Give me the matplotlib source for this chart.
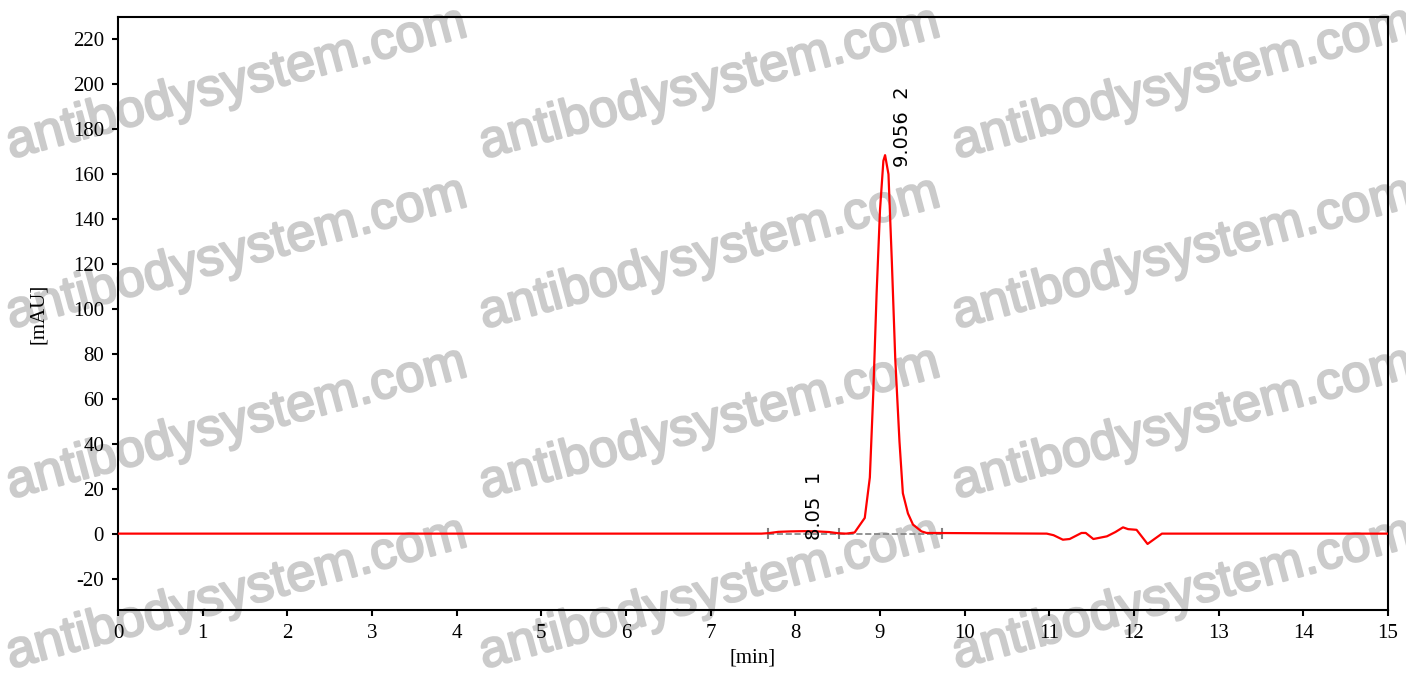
import numpy as np
from matplotlib import pyplot as plt
import matplotlib.patheffects as pe

plt.rcParams['axes.unicode_minus'] = False

# chromatogram trace (time in min, signal in mAU)
time = [0.0, 7.60, 7.68, 7.80, 7.95, 8.10, 8.25, 8.40, 8.50, 8.60, 8.70,
        8.82, 8.88, 8.92, 8.96, 9.00, 9.04, 9.06, 9.10, 9.14, 9.18, 9.23,
        9.27, 9.33, 9.39, 9.49, 9.55, 10.97, 11.05, 11.16, 11.24, 11.38,
        11.43, 11.52, 11.68, 11.78, 11.87, 11.93, 12.03, 12.09, 12.16,
        12.23, 12.33, 15.0]
signal = [0.0, 0.0, 0.2, 0.8, 1.0, 1.1, 1.0, 0.7, 0.2, 0.0, 0.5,
          7.0, 25.0, 62.0, 107.0, 144.0, 166.0, 168.5, 160.0, 121.0, 78.0, 41.0,
          18.0, 9.0, 4.0, 1.0, 0.3, 0.0, -0.7, -2.7, -2.4, 0.3,
          0.3, -2.4, -1.2, 0.7, 2.8, 2.0, 1.7, -1.2, -4.6,
          -2.7, 0.0, 0.0]

# integration baseline marks
base_marks = [7.68, 8.52, 9.73]

# peak annotations
peak_rt = ["8.05", "9.056"]
peak_no = ["1", "2"]
label_x = [8.23, 9.26]
label_y = [-2.7, 163.0]

fig = plt.figure(figsize=(14.06, 6.79), dpi=100)
ax = fig.add_axes([118/1406, 1-610/679, (1388-118)/1406, (610-17)/679])
ax.set_facecolor('none')
ax.set_zorder(1)

ax.plot([base_marks[0], base_marks[-1]], [0, 0], linestyle='--', color='#808080',
        linewidth=1.2, zorder=2)
for bx in base_marks:
    ax.plot([bx, bx], [-2.0, 2.2], color='#808080', linewidth=1.5, zorder=2)

ax.plot(time, signal, color='#ff0000', linewidth=1.6, zorder=3)

for i in range(len(peak_rt)):
    ax.text(label_x[i], label_y[i], peak_rt[i] + "  " + peak_no[i], rotation=90,
            ha='center', va='bottom', fontsize=14, family='DejaVu Sans', zorder=4)

ax.set_xlim(0, 15)
ax.set_ylim(-34, 230)
ax.set_xticks(np.arange(0, 16, 1))
ax.set_yticks(np.arange(-20, 221, 20))
for lab in ax.get_xticklabels() + ax.get_yticklabels():
    lab.set_family('Liberation Serif')
    lab.set_fontsize(15)
ax.tick_params(direction='out', length=4, width=1.5, pad=6)
for sp in ax.spines.values():
    sp.set_linewidth(1.5)
ax.set_xlabel("[min]", family='Liberation Serif', fontsize=15, labelpad=4)
ax.set_ylabel("[mAU]", family='Liberation Serif', fontsize=15, labelpad=18)

# watermark grid
wm_x = [237, 710, 1183]
wm_y = [84, 254, 424, 594]
for wx in wm_x:
    for wy in wm_y:
        fig.text(wx/1406, 1-wy/679, "antibodysystem.com", rotation=15,
                 rotation_mode='anchor', ha='center', va='center',
                 fontsize=37.5, family='Liberation Sans',
                 color='#cbcbcb', zorder=0.5,
                 path_effects=[pe.withStroke(linewidth=1.6, foreground='#cbcbcb')])

plt.savefig("out.png", dpi=100)
